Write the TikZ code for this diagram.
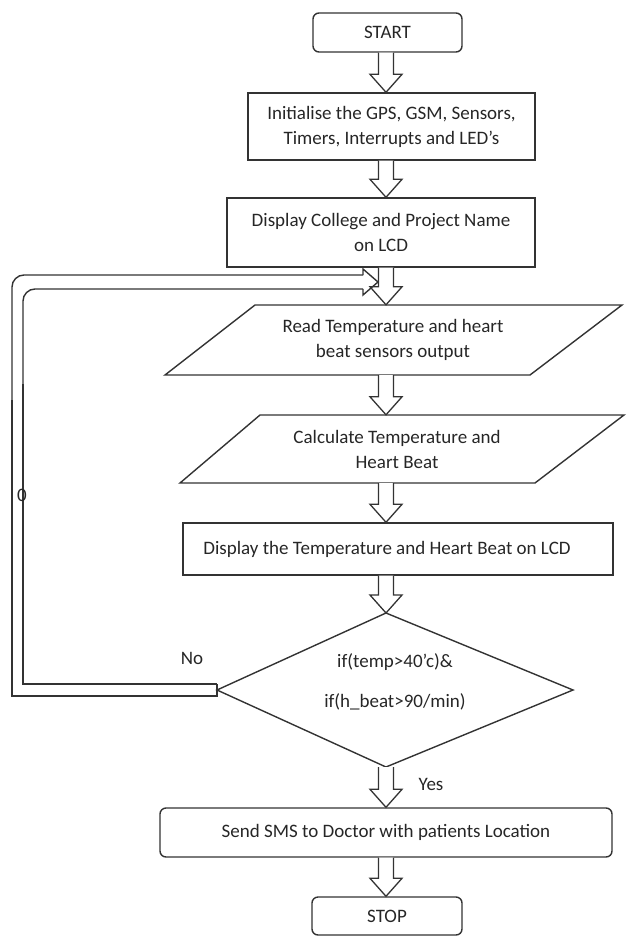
\documentclass[tikz,border=0pt]{standalone}
\usepackage{fontspec}
\setmainfont{Carlito}
\usetikzlibrary{calc}
\definecolor{lc}{HTML}{333333}
\definecolor{tc}{HTML}{262626}
\newcommand\harr[2]{\draw[harrow] let \p1=(#1 -| col), \p2=(#2 -| col) in
  (\x1-7.5pt,\y1) -- (\x1-7.5pt,\y2+18pt) -- (\x1-16pt,\y2+18pt) -- (\x1,\y2) --
  (\x1+16pt,\y2+18pt) -- (\x1+7.5pt,\y2+18pt) -- (\x1+7.5pt,\y1);}
\begin{document}
\begin{tikzpicture}[x=1pt,y=-1pt,
  txt/.style={inner sep=0pt,align=center,font=\fontsize{19}{25}\selectfont,text=tc},
  box/.style={txt,draw=lc,line width=1.4pt},
  rbox/.style={box,rounded corners=6pt},
  harrow/.style={draw=lc,line width=1.3pt,fill=white,line join=miter},
  conn/.style={draw=lc,line width=1.4pt}]
\useasboundingbox (0,0) rectangle (627,936);
\coordinate (col) at (386,0);
% boxes
\node[rbox,minimum width=149pt,minimum height=39pt] (start) at (387.5,32.5) {START};
\node[box,minimum width=287pt,minimum height=67pt] (init) at (391.5,126.5) {Initialise the GPS, GSM, Sensors,\\Timers, Interrupts and LED’s};
\node[box,minimum width=308pt,minimum height=69pt] (disp1) at (381,232.5) {Display College and Project Name\\on LCD};
\draw[conn] (255,305) -- (622,305) -- (530,375) -- (165,375) -- cycle;
\node[txt,minimum height=70pt] (read) at (393,340) {Read Temperature and heart\\beat sensors output};
\draw[conn] (260,415) -- (624,415) -- (535,483) -- (180,483) -- cycle;
\node[txt,minimum height=68pt] (calc) at (397,449) {Calculate Temperature and\\Heart Beat};
\node[box,minimum width=430pt,minimum height=52pt] (disp2) at (398,549) {Display the Temperature and Heart Beat on LCD\hspace*{22pt}};
\coordinate (dectop) at (386,613);
\coordinate (decbot) at (386,767);
\coordinate (dw) at (217,690);
\coordinate (de) at (573,690);
\draw[conn] (dectop) -- (de) -- (decbot) -- (dw) -- cycle;
\node[txt,font=\fontsize{19}{40}\selectfont] (dec) at (395,682) {if(temp>40’c)\&\\if(h\_beat>90/min)};
\node[rbox,minimum width=452pt,minimum height=49pt] (sms) at (386,832.5) {Send SMS to Doctor with patients Location};
\node[rbox,minimum width=150pt,minimum height=38pt] (stop) at (387,916) {STOP};
% arrows
\harr{start.south}{init.north}
\harr{init.south}{disp1.north}
\harr{disp1.south}{read.north}
\harr{read.south}{calc.north}
\harr{calc.south}{disp2.north}
\harr{disp2.south}{dectop}
\harr{decbot}{sms.north}
\harr{sms.south}{stop.north}
% loop back (No)
\coordinate (tip) at (378,282);
\draw[conn] ($(dw)+(0,-6)$) -- ++(-194,0) -- ++(0,-300);
\draw[conn,rounded corners=12pt] (23,384) -- (23,289) -- ($(tip)+(-15,7)$);
\draw[conn,line join=miter] ($(tip)+(-15,7)$) -- ++(0,6) -- (tip) -- ++(-15,-13) -- ++(0,6);
\draw[conn,rounded corners=12pt] ($(tip)+(-15,-7)$) -- (12,275) -- (12,400);
\draw[conn] (12,400) -- (12,696) -- ($(dw)+(0,6)$) -- ($(dw)+(0,-6)$);
% labels
\node[txt] (zero) at (22,495) {0};
\node[txt] (no) at (192,658) {No};
\node[txt] (yes) at (431,784) {Yes};
\end{tikzpicture}
\end{document}
